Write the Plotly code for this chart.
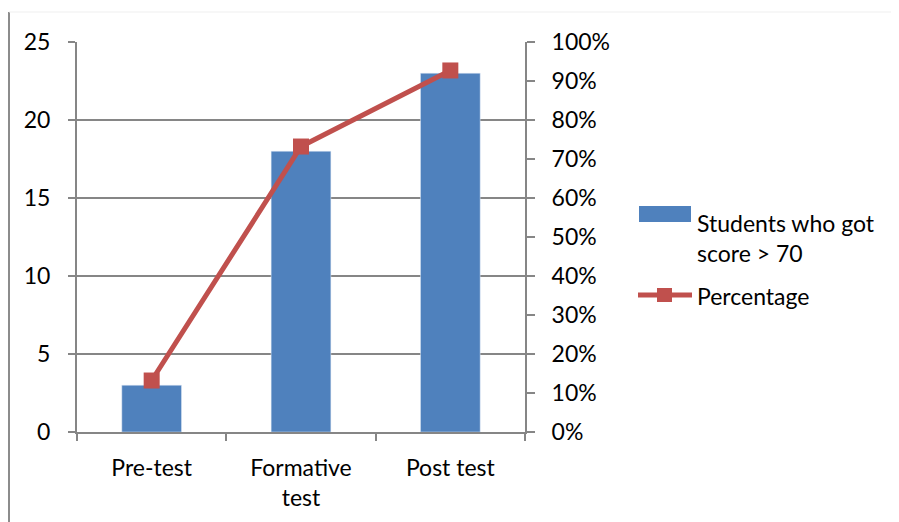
import plotly.graph_objects as go

categories = ["Pre-test", "Formative<br>test", "Post test"]
students = [3, 18, 23]
percentage = [13.2, 73.2, 92.7]
left_ticks = [0, 5, 10, 15, 20, 25]
right_ticks = [0, 10, 20, 30, 40, 50, 60, 70, 80, 90, 100]
right_tick_text = [f"{v}%" for v in right_ticks]
legend_bar_name = "Students who got<br>score > 70"
legend_line_name = "Percentage"

BLUE = "#4F81BD"
RED = "#C0504D"
GRID = "#868686"
FONT = "Lato"
FS = 23

OFF = 8  # default page body margin
W, H = 899 - OFF, 522 - OFF
# plot area in screenshot pixels
L, R, T, B = 77, 525, 42, 432


def px(x):
    return (x - L) / (R - L)


def py(y):
    return (B - y) / (B - T)


fig = go.Figure()
fig.add_trace(go.Bar(x=categories, y=students, marker_color=BLUE, width=0.4,
                     name="Students who got score > 70", showlegend=False))
fig.add_trace(go.Scatter(x=categories, y=percentage, yaxis="y2", mode="lines+markers",
                         line=dict(color=RED, width=5),
                         marker=dict(symbol="square", size=16, color=RED),
                         name=legend_line_name, showlegend=False))

fig.update_layout(
    width=W, height=H,
    margin=dict(l=L - OFF, r=899 - R, t=T - OFF, b=522 - B, pad=0),
    paper_bgcolor="white", plot_bgcolor="white",
    font=dict(family=FONT, size=FS, color="#000000"),
    xaxis=dict(type="category", tickson="boundaries", ticks="outside", ticklen=7,
               tickcolor=GRID, tickwidth=2, showline=True, linecolor=GRID, linewidth=2,
               showgrid=False, ticklabelstandoff=14),
    yaxis=dict(range=[0, 25], tickvals=left_ticks, ticks="outside", ticklen=7,
               tickcolor=GRID, tickwidth=2, showline=True, linecolor=GRID, linewidth=2,
               showgrid=True, gridcolor=GRID, gridwidth=2, zeroline=False,
               ticklabelstandoff=13),
    yaxis2=dict(range=[0, 100], tickmode="array", tickvals=right_ticks,
                ticktext=right_tick_text, overlaying="y",
                side="right", ticks="outside", ticklen=8, tickcolor=GRID, tickwidth=2,
                showline=True, linecolor=GRID, linewidth=2, showgrid=False,
                zeroline=False, ticklabelstandoff=12),
    showlegend=False,
)

shapes = []
# chart frame (left border and faint top border)
shapes.append(dict(type="line", xref="paper", yref="paper", x0=px(9), x1=px(9),
                   y0=py(12), y1=py(530), line=dict(color="#8c8c8c", width=2)))
shapes.append(dict(type="line", xref="paper", yref="paper", x0=px(9), x1=px(905),
                   y0=py(12), y1=py(12), line=dict(color="#efefef", width=1)))
# legend swatches
shapes.append(dict(type="rect", xref="paper", yref="paper", x0=px(639), x1=px(691),
                   y0=py(222), y1=py(206), fillcolor=BLUE, line=dict(width=0)))
shapes.append(dict(type="line", xref="paper", yref="paper", x0=px(638), x1=px(692),
                   y0=py(295), y1=py(295), line=dict(color=RED, width=5)))
shapes.append(dict(type="rect", xref="paper", yref="paper", x0=px(657), x1=px(672),
                   y0=py(302), y1=py(288), fillcolor=RED, line=dict(width=0)))
fig.update_layout(shapes=shapes)

fig.add_annotation(xref="paper", yref="paper", x=px(695), y=py(238), xanchor="left",
                   yanchor="middle", text=legend_bar_name, showarrow=False, align="left",
                   font=dict(family=FONT, size=FS))
fig.add_annotation(xref="paper", yref="paper", x=px(695), y=py(296), xanchor="left",
                   yanchor="middle", text=legend_line_name, showarrow=False, align="left",
                   font=dict(family=FONT, size=FS))

fig.write_html("out.html")
